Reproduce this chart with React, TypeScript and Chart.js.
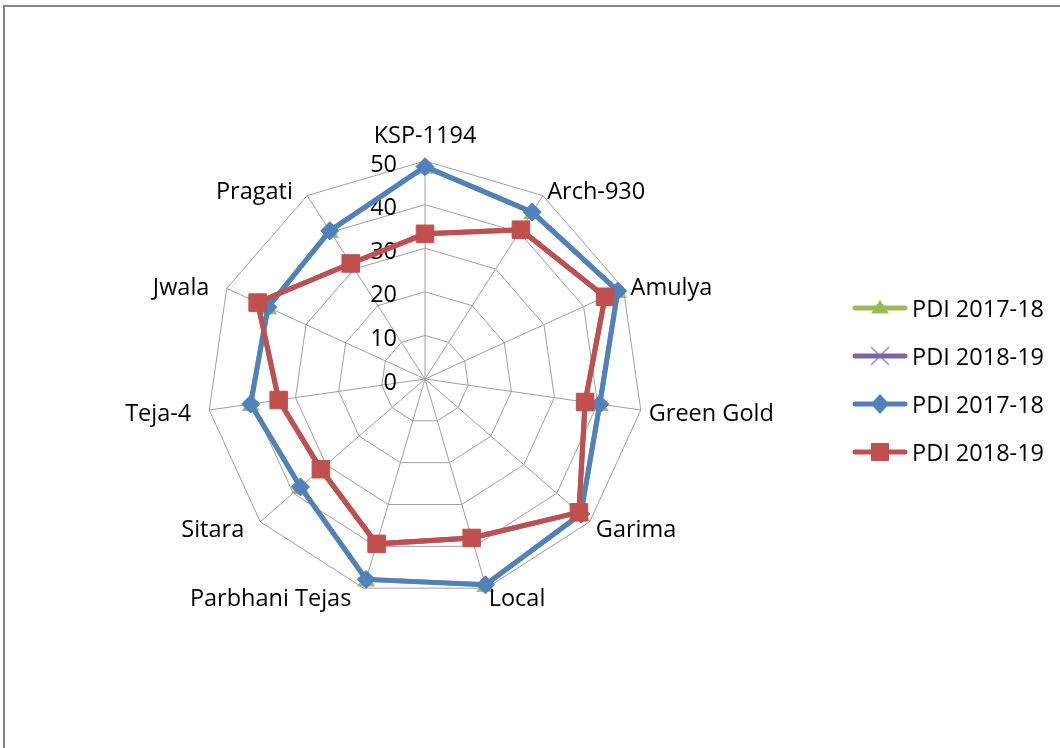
import React, { useEffect, useRef } from 'react';
import { Chart, registerables } from 'chart.js';

Chart.register(...registerables);

const categories = [
  'KSP-1194', 'Arch-930', 'Amulya', 'Green Gold', 'Garima', 'Local',
  'Parbhani Tejas', 'Sitara', 'Teja-4', 'Jwala', 'Pragati',
];
const pdi2017 = [48.7, 45.5, 48.6, 40.5, 47.3, 49.2, 47.9, 37.8, 40.4, 39.6, 40.4];
const pdi2018 = [33.3, 40.7, 45.4, 37.1, 46.7, 38.0, 39.4, 31.6, 33.9, 42.2, 31.5];
const seriesNames = ['PDI 2017-18', 'PDI 2018-19', 'PDI 2017-18', 'PDI 2018-19'];
const tickValues = [0, 10, 20, 30, 40, 50];

const GREEN = '#9BBB59';
const PURPLE = '#8064A2';
const BLUE = '#4F81BD';
const RED = '#C0504D';
const FONT = '23.5px "Open Sans", sans-serif';

function makeTriangle(color: string): HTMLCanvasElement {
  const c = document.createElement('canvas');
  c.width = 18;
  c.height = 18;
  const g = c.getContext('2d')!;
  g.fillStyle = color;
  g.beginPath();
  g.moveTo(9, 1);
  g.lineTo(18, 16);
  g.lineTo(0, 16);
  g.closePath();
  g.fill();
  return c;
}

function drawMarker(ctx: CanvasRenderingContext2D, kind: string, x: number, y: number, color: string) {
  ctx.save();
  ctx.fillStyle = color;
  ctx.strokeStyle = color;
  ctx.beginPath();
  if (kind === 'triangle') {
    ctx.moveTo(x, y - 8);
    ctx.lineTo(x + 9, y + 5.5);
    ctx.lineTo(x - 9, y + 5.5);
    ctx.closePath();
    ctx.fill();
  } else if (kind === 'cross') {
    ctx.globalAlpha = 0.75;
    ctx.lineWidth = 1.5;
    ctx.moveTo(x - 9, y - 9);
    ctx.lineTo(x + 9, y + 9);
    ctx.moveTo(x + 9, y - 9);
    ctx.lineTo(x - 9, y + 9);
    ctx.stroke();
  } else if (kind === 'diamond') {
    ctx.moveTo(x, y - 10);
    ctx.lineTo(x + 9, y);
    ctx.lineTo(x, y + 10);
    ctx.lineTo(x - 9, y);
    ctx.closePath();
    ctx.fill();
  } else {
    ctx.rect(x - 9, y - 9, 18, 18);
    ctx.fill();
  }
  ctx.restore();
}

const legendKinds = ['triangle', 'cross', 'diamond', 'square'];
const legendColors = [GREEN, PURPLE, BLUE, RED];

const excelPlugin = {
  id: 'excelText',
  beforeDraw(chart: any) {
    const ctx = chart.ctx as CanvasRenderingContext2D;
    ctx.save();
    ctx.fillStyle = '#ffffff';
    ctx.fillRect(0, 0, chart.width, chart.height);
    ctx.fillStyle = '#868686';
    ctx.fillRect(3, 5, chart.width - 3, 2);
    ctx.fillRect(3, 5, 2, chart.height - 5);
    ctx.restore();
  },
  beforeDatasetsDraw(chart: any) {
    const ctx = chart.ctx as CanvasRenderingContext2D;
    const scale = chart.scales.r;
    ctx.save();
    ctx.font = FONT;
    ctx.fillStyle = '#000000';
    ctx.textAlign = 'right';
    ctx.textBaseline = 'alphabetic';
    tickValues.forEach((v) => {
      const d = scale.getDistanceFromCenterForValue(v);
      ctx.fillText(String(v), scale.xCenter - 28, scale.yCenter - d + 10.5);
    });
    ctx.restore();
  },
  afterDraw(chart: any) {
    const ctx = chart.ctx as CanvasRenderingContext2D;
    const scale = chart.scales.r;
    ctx.save();
    ctx.font = FONT;
    ctx.fillStyle = '#000000';
    ctx.textBaseline = 'alphabetic';
    const R = scale.drawingArea;
    const n = categories.length;
    categories.forEach((label, i) => {
      const p = scale.getPointPosition(i, R + 8);
      const deg = (i * 360) / n;
      if (deg === 0) {
        ctx.textAlign = 'center';
        ctx.fillText(label, p.x, p.y - 10);
      } else if (deg < 180) {
        ctx.textAlign = 'left';
        ctx.fillText(label, p.x, p.y + 10);
      } else {
        ctx.textAlign = 'right';
        ctx.fillText(label, p.x - 10, p.y + 10);
      }
    });

    // legend
    const rows = [308, 356, 404, 452];
    seriesNames.forEach((name, i) => {
      const y = rows[i];
      ctx.save();
      ctx.strokeStyle = legendColors[i];
      ctx.lineWidth = 5;
      ctx.lineCap = 'round';
      ctx.beginPath();
      ctx.moveTo(855, y);
      ctx.lineTo(905, y);
      ctx.stroke();
      ctx.restore();
      drawMarker(ctx, legendKinds[i], 880, y, legendColors[i]);
      ctx.textAlign = 'left';
      ctx.fillStyle = '#000000';
      ctx.fillText(name, 912, y + 8.5);
    });
    ctx.restore();
  },
};

export default function App() {
  const ref = useRef<HTMLCanvasElement | null>(null);

  useEffect(() => {
    if (!ref.current) return;
    const tri = makeTriangle(GREEN);
    const chart = new Chart(ref.current, {
      type: 'radar',
      data: {
        labels: categories,
        datasets: [
          {
            label: seriesNames[0],
            data: pdi2017,
            borderColor: GREEN,
            backgroundColor: GREEN,
            borderWidth: 5,
            fill: false,
            pointStyle: tri as any,
            pointRadius: 8,
            pointBackgroundColor: GREEN,
            pointBorderColor: GREEN,
            order: 4,
            clip: false as any,
          },
          {
            label: seriesNames[1],
            data: pdi2018,
            borderColor: PURPLE,
            backgroundColor: PURPLE,
            borderWidth: 5,
            fill: false,
            pointStyle: 'crossRot',
            pointRadius: 8,
            pointBorderWidth: 1.5,
            pointBorderColor: PURPLE,
            order: 3,
            clip: false as any,
          },
          {
            label: seriesNames[2],
            data: pdi2017,
            borderColor: BLUE,
            backgroundColor: BLUE,
            borderWidth: 5,
            fill: false,
            pointStyle: 'rectRot',
            pointRadius: 9,
            pointBorderWidth: 1,
            pointBackgroundColor: BLUE,
            pointBorderColor: BLUE,
            order: 2,
            clip: false as any,
          },
          {
            label: seriesNames[3],
            data: pdi2018,
            borderColor: RED,
            backgroundColor: RED,
            borderWidth: 5,
            fill: false,
            pointStyle: 'rect',
            pointRadius: 12.4,
            pointBorderWidth: 1,
            pointBackgroundColor: RED,
            pointBorderColor: RED,
            order: 1,
            clip: false as any,
          },
        ],
      },
      options: {
        responsive: false,
        animation: false,
        events: [],
        layout: { padding: { left: 207, top: 161, right: 417, bottom: 151 } },
        elements: { line: { tension: 0, borderJoinStyle: 'miter' } },
        plugins: {
          legend: { display: false },
          tooltip: { enabled: false },
          title: { display: false },
        },
        scales: {
          r: {
            min: 0,
            max: 50,
            ticks: { display: false, stepSize: 10 },
            grid: { color: '#a0a0a0', lineWidth: 1 },
            angleLines: { color: '#a0a0a0', lineWidth: 1 },
            pointLabels: { display: false },
          },
        },
      },
      plugins: [excelPlugin],
    });
    return () => chart.destroy();
  }, []);

  return (
    <div style={{ position: 'absolute', left: 0, top: 0, width: 1060, height: 748 }}>
      <canvas ref={ref} width={1060} height={748} style={{ display: 'block', width: 1060, height: 748 }} />
    </div>
  );
}
